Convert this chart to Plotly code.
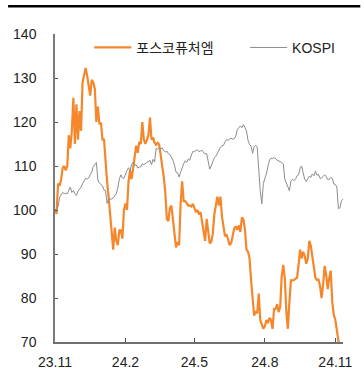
import pandas as pd
import plotly.graph_objects as go

# --- data, 2-day sampling from 2023-11-01 ---
start_date = "2023-11-01"
n_points = 189

posco = [
    100, 99.1, 106, 105.5, 107, 109.5, 110, 109, 110, 117,
    114, 118, 125.5, 115, 124, 116, 122.5, 118, 129, 131,
    132.3, 130.5, 128, 126, 129.6, 129, 127.5, 120, 123.5, 119.5,
    119.8, 116, 116, 110, 106.5, 103, 99, 96, 91, 96,
    93, 92, 95.4, 95.4, 93.5, 100, 101.5, 100, 106.5, 109,
    107, 109.5, 112.5, 114.6, 113, 115.5, 115, 120, 116, 115,
    116, 117, 121, 116, 116.5, 115.3, 114.8, 115.3, 114.9, 112.5,
    110, 107.5, 104, 98, 97.5, 100.5, 101, 97.5, 94.5, 91.5,
    92.7, 92, 101.5, 106.5, 102, 102, 101.5, 101, 101, 100.8,
    101.4, 100.5, 99.5, 100, 99, 99.5, 97.6, 95, 93, 98,
    95, 92.4, 92.8, 94.5, 99, 101, 103, 101, 103, 98.5,
    96, 94, 94.5, 93.5, 92, 92.5, 94.5, 95.8, 96.3, 95.5,
    96.5, 95, 98.3, 97.8, 95.5, 91, 90.5, 89, 84, 79.6,
    76, 77, 76.5, 81, 75, 74, 73, 73.6, 75, 74.3,
    75.5, 75, 73, 77.5, 77.5, 78.6, 76.8, 78, 85, 87.5,
    84.5, 77, 73, 79, 84, 84, 84.1, 84.4, 84.6, 87.5,
    91, 89, 90.5, 89.6, 87.8, 89, 93, 91.8, 89.5, 87.3,
    84.6, 84.1, 84.2, 82.8, 80, 83, 87.3, 85.3, 82, 84.5,
    86.2, 79, 76.2, 75, 72.2, 70, 68, 66.5, 65.5,
]

kospi = [
    100, 100.3, 100.7, 102.9, 103.5, 104, 103.7, 103.8, 103.7, 104.4,
    105.2, 104, 104.4, 103.7, 103.3, 104.3, 104.8, 105.2, 106, 106.8,
    107.2, 107, 107.3, 108, 108.6, 109.9, 110.5, 110.8, 106.8, 106.1,
    105.8, 105.5, 104.5, 104.4, 101.5, 102.5, 102.4, 102.5, 102.7, 103.2,
    103.7, 105, 107, 108, 107.3, 107.2, 108.3, 109, 109.6, 108.9,
    110.4, 110.8, 110.1, 110.3, 109.5, 109.8, 109.8, 110.5, 110.3, 110.6,
    110.8, 111, 111.3, 110.3, 111.5, 110.9, 114, 113.8, 114.1, 113.9,
    114.1, 113.5, 113.2, 113.4, 112.8, 112.6, 112, 111.3, 110.2, 108.6,
    108.5, 107.5, 108.6, 109.8, 110.5, 111.2, 110.8, 111.6, 111.3, 112.5,
    113.3, 113.2, 113.6, 113.6, 113.3, 113.4, 113.6, 113, 112.8, 112.8,
    111.4, 109.3, 110, 111.2, 111.9, 112.2, 113, 113.6, 114.3, 114.6,
    114.7, 115.5, 116, 115.8, 116.2, 116.3, 116.1, 116.2, 116.8, 118.3,
    118.7, 119.1, 118.7, 119.4, 118.7, 118, 115.8, 114.9, 114.5, 112.9,
    114.4, 114.7, 114.3, 108.2, 104.2, 101.4, 106, 107.2, 108.2, 110,
    111.3, 111.8, 111.7, 111.9, 111.7, 111.3, 111.2, 111, 110.8, 110.5,
    107, 106.2, 105.5, 104.4, 106.6, 107, 106.7, 107, 107.8, 108,
    109.5, 110, 108.4, 107, 106.5, 107.2, 107.7, 107.4, 108.2, 107.8,
    108.8, 107.9, 108.1, 107.2, 107.3, 107.6, 108, 107.6, 106.9, 106.9,
    107.4, 107.2, 105.9, 105.8, 105.2, 100.3, 100.5, 102.1, 102.5,
]

series_names = ["포스코퓨처엠", "KOSPI"]
tick_dates = ["2023-11-01", "2024-02-01", "2024-05-01", "2024-08-01", "2024-11-01"]
tick_labels = ["23.11", "24.2", "24.5", "24.8", "24.11"]
y_ticks = [70, 80, 90, 100, 110, 120, 130, 140]

dates = pd.date_range(start_date, periods=n_points, freq="2D")

ORANGE = "#F5872A"
GREY = "#8C8C8C"
FONT = "Liberation Sans, Arial, Noto Sans CJK KR, sans-serif"

fig = go.Figure()
fig.add_trace(go.Scatter(x=dates, y=posco, mode="lines", name=series_names[0],
                         line=dict(color=ORANGE, width=2.2), legend="legend"))
fig.add_trace(go.Scatter(x=dates, y=kospi, mode="lines", name=series_names[1],
                         line=dict(color=GREY, width=1), legend="legend2"))

legend_common = dict(orientation="h", xanchor="left", yanchor="middle",
                     bgcolor="rgba(0,0,0,0)", font=dict(size=14, color="#222222"),
                     itemwidth=37)

fig.update_layout(
    width=364, height=382,
    margin=dict(l=55, r=15, t=34, b=38),
    paper_bgcolor="white", plot_bgcolor="white",
    font=dict(family=FONT, size=14, color="#222222"),
    showlegend=True,
    legend=dict(x=0.119, y=0.955, **legend_common),
    legend2=dict(x=0.66, y=0.955, **legend_common),
    xaxis=dict(
        type="date", range=["2023-11-01", "2024-11-11"],
        tickvals=tick_dates, ticktext=tick_labels,
        showgrid=False, zeroline=False,
        showline=True, linecolor="#6E6E6E", linewidth=2,
        ticks="inside", ticklen=4, tickcolor="#555555", tickwidth=1,
        ticklabelstandoff=6,
    ),
    yaxis=dict(
        range=[70, 140], tickvals=y_ticks,
        showgrid=False, zeroline=False,
        showline=True, linecolor="#7A7A7A", linewidth=1.5,
        ticks="inside", ticklen=3, tickcolor="#555555", tickwidth=1,
        ticklabelstandoff=14,
    ),
    shapes=[dict(type="line", xref="paper", yref="paper",
                 x0=-0.163, x1=1.06, y0=1.0903, y1=1.0903,
                 line=dict(color="black", width=2.5))],
)

fig.write_html("out.html", config={"displayModeBar": False},
               post_script="document.body.style.margin='0';")
